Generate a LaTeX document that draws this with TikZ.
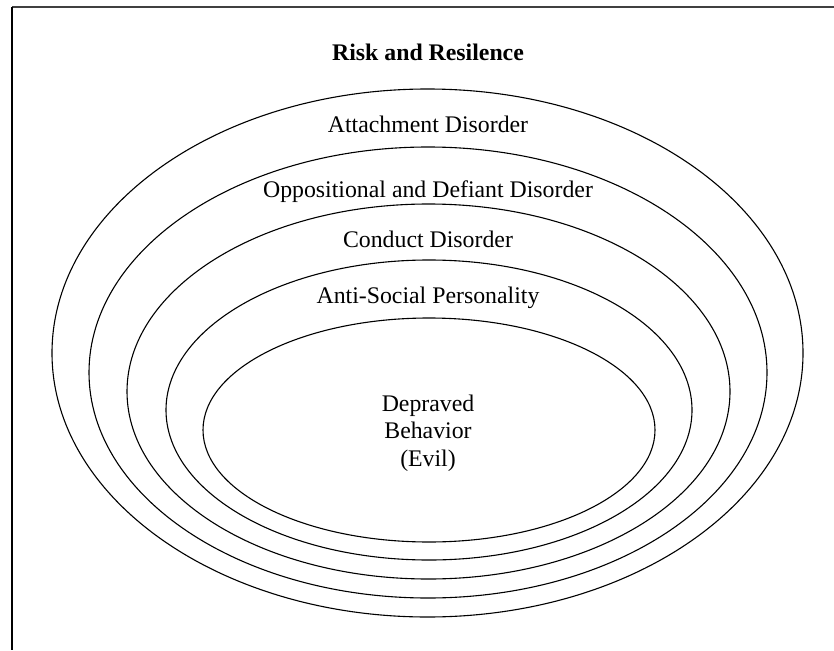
\documentclass[tikz,border=0pt]{standalone}
\usepackage{fontspec}
\setmainfont{Liberation Serif}
\usetikzlibrary{shapes.geometric}
\begin{document}
\begin{tikzpicture}[x=1pt,y=-1pt,
  ring/.style={draw=black, line width=1.1pt, ellipse, inner sep=0pt},
  lbl/.style={font=\fontsize{23.8}{27.5}\selectfont, inner sep=0pt, anchor=base},
  frameline/.style={line width=1.6pt}]
\useasboundingbox (0,0) rectangle (834,650);
% frame
\coordinate (ftl) at (12,7);
\coordinate (ftr) at (834,7);
\coordinate (fbl) at (12,650);
\draw[frameline, draw=black!75] (ftl) -- (ftr);
\draw[frameline, draw=black] (ftl) -- (fbl);
% ellipses
\node[ring, minimum width=751, minimum height=528] (e1) at (427.5,353) {};
\node[ring, minimum width=678, minimum height=451] (e2) at (428,372.5) {};
\node[ring, minimum width=603, minimum height=375] (e3) at (428.5,391.5) {};
\node[ring, minimum width=526, minimum height=300] (e4) at (429,410) {};
\node[ring, minimum width=452, minimum height=224] (e5) at (429,430) {};
% labels
\node[lbl, font=\fontsize{23.8}{27.5}\selectfont\bfseries] (title) at (428,61) {Risk and Resilence};
\node[lbl] (l1) at (428,132) {Attachment Disorder};
\node[lbl] (l2) at (428,197) {Oppositional and Defiant Disorder};
\node[lbl] (l3) at (428,247) {Conduct Disorder};
\node[lbl] (l4) at (428,303) {Anti-Social Personality};
\node[font=\fontsize{23.8}{27.5}\selectfont, inner sep=0pt, align=center, anchor=center] (l5) at (428,433) {Depraved\\Behavior\\(Evil)};
\end{tikzpicture}
\end{document}
